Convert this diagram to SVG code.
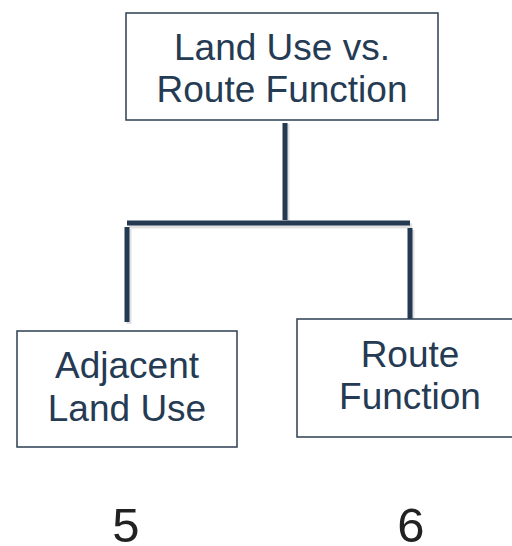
<svg xmlns="http://www.w3.org/2000/svg" width="512" height="546" viewBox="0 0 512 546">
<style>
.box{fill:#ffffff;stroke:#2c3e52;stroke-width:1.5}
.lbl{font-family:"Liberation Sans",Arial,sans-serif;font-size:37px;fill:#253b53;text-anchor:middle}
.num{font-family:"Liberation Sans",Arial,sans-serif;font-size:49px;fill:#222222;text-anchor:middle}
.con{stroke:#243a52;stroke-width:5;fill:none}
.shd{stroke:#000000;stroke-opacity:0.12;stroke-width:5;fill:none}
</style>
<rect width="512" height="546" fill="#ffffff"/>
<g id="connectors">
<path class="shd" d="M287,124 V221 M129,229 V324 M412,230 V325 M129,226 H412"/>
<path class="con" d="M285,123 V220 M127,227 V322 M410,228 V323 M127,223 H410"/>
</g>
<g id="node-top">
<rect class="box" x="126" y="13" width="312" height="107"/>
<text class="lbl" x="282" y="60">Land Use vs.</text>
<text class="lbl" x="282" y="102">Route Function</text>
</g>
<g id="node-adjacent">
<rect class="box" x="17" y="331" width="220" height="116"/>
<text class="lbl" x="127" y="378">Adjacent</text>
<text class="lbl" x="127" y="421">Land Use</text>
</g>
<g id="node-route">
<rect class="box" x="297" y="319" width="226" height="118"/>
<text class="lbl" x="410" y="367">Route</text>
<text class="lbl" x="410" y="409">Function</text>
</g>
<g id="numbers">
<text class="num" x="126" y="542">5</text>
<text class="num" x="411" y="542">6</text>
</g>
</svg>
